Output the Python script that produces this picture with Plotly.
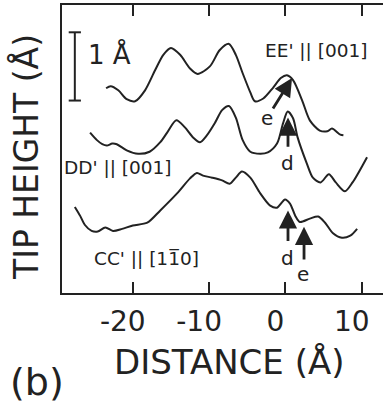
import plotly.graph_objects as go

# ---- data (distance in Å, tip height in Å, arbitrary offset) ----
ee_x = [-23.5, -22.9, -21.9, -20.8, -19.7, -18.4, -17.1, -16.0, -15.0, -13.8, -12.5, -11.5,
        -9.9, -8.6, -7.4, -6.5, -5.6, -4.6, -4.0, -2.9, -1.6, -0.6, 0.2, 1.0, 2.2, 3.2,
        4.5, 5.5, 6.1, 7.2, 7.6]
ee_y = [3.00, 3.03, 2.97, 2.84, 2.81, 2.97, 3.26, 3.49, 3.59, 3.49, 3.29, 3.21,
        3.32, 3.56, 3.65, 3.49, 3.22, 2.94, 2.81, 2.85, 3.01, 3.15, 3.19, 3.12, 2.82, 2.53,
        2.38, 2.37, 2.41, 2.32, 2.31]

dd_x = [-25.6, -24.7, -24.0, -23.4, -22.7, -22.1, -20.8, -19.3, -17.8, -16.4, -15.5, -14.3,
        -13.2, -12.1, -11.2, -10.3, -9.2, -8.3, -7.4, -6.5, -5.6, -4.6, -3.3, -2.3, -1.1,
        -0.3, 0.3, 1.0, 1.6, 2.8, 3.6, 4.6, 5.7, 6.6, 7.8, 8.8, 10.7]
dd_y = [2.35, 2.24, 2.18, 2.16, 2.19, 2.18, 2.09, 2.04, 2.07, 2.21, 2.35, 2.53,
        2.43, 2.28, 2.21, 2.31, 2.50, 2.68, 2.74, 2.57, 2.24, 2.07, 2.04, 2.06, 2.19,
        2.49, 2.66, 2.56, 2.28, 1.90, 1.69, 1.62, 1.74, 1.62, 1.49, 1.62, 1.99]

cc_x = [-27.6, -26.9, -26.3, -25.4, -24.6, -23.6, -22.6, -21.4, -20.0, -18.1, -16.4, -14.2,
        -12.5, -11.6, -10.8, -9.6, -8.3, -7.3, -6.5, -5.7, -4.6, -3.3, -2.0, -1.1, -0.05,
        0.6, 1.3, 1.9, 3.2, 4.3, 5.2, 6.2, 7.4, 8.5, 9.4]
cc_y = [1.26, 1.13, 1.00, 0.91, 0.90, 0.96, 0.91, 0.94, 0.99, 1.03, 1.21, 1.46,
        1.68, 1.76, 1.72, 1.69, 1.65, 1.60, 1.69, 1.78, 1.69, 1.46, 1.28, 1.25, 1.37,
        1.31, 1.13, 1.04, 1.09, 1.12, 1.03, 0.88, 0.81, 0.84, 0.94]

tick_vals = [-20, -10, 0, 10]
tick_text = ["-20", "-10", "0", "10"]

# scale bar (1 Å)
bar_x = -27.6
bar_y0 = 2.82
bar_len = 1.0
bar_half = 0.8

# arrows: (tail x, tail y, tip x, tip y, label, label x, label y)
arrows = [
    (-1.75, 2.68, 0.87, 3.15, "e", -2.45, 2.57),
    (0.34, 2.12, 0.34, 2.57, "d", 0.30, 1.90),
    (0.34, 0.74, 0.34, 1.21, "d", 0.30, 0.51),
    (2.44, 0.47, 2.44, 0.97, "e", 2.35, 0.28),
]

curve_labels = [
    ("EE' || [001]", 4.0, 3.56),
    ("DD' || [001]", -21.9, 1.84),
    ("CC' || [1" + "1\u0305" + "0]", -18.2, 0.51),
]

FONT = "DejaVu Sans"
INK = "#222222"

fig = go.Figure()
for xs, ys in [(ee_x, ee_y), (dd_x, dd_y), (cc_x, cc_y)]:
    fig.add_trace(go.Scatter(x=xs, y=ys, mode="lines",
                             line=dict(color=INK, width=2, shape="spline", smoothing=0.8),
                             showlegend=False, hoverinfo="skip"))

# scale bar
fig.add_trace(go.Scatter(
    x=[bar_x, bar_x, None, bar_x - bar_half, bar_x + bar_half, None, bar_x - bar_half, bar_x + bar_half],
    y=[bar_y0, bar_y0 + bar_len, None, bar_y0, bar_y0, None, bar_y0 + bar_len, bar_y0 + bar_len],
    mode="lines", line=dict(color=INK, width=2), showlegend=False, hoverinfo="skip"))

ann = []
ann.append(dict(x=bar_x + 4.6, y=bar_y0 + 0.68, xref="x", yref="y", text="1 Å",
                showarrow=False, font=dict(family=FONT, size=26, color=INK)))
for (t, x, y) in curve_labels:
    ann.append(dict(x=x, y=y, xref="x", yref="y", text=t, showarrow=False,
                    font=dict(family=FONT, size=18.5, color=INK)))
for (tx, ty, hx, hy, lab, lx, ly) in arrows:
    ann.append(dict(x=hx, y=hy, ax=tx, ay=ty, xref="x", yref="y", axref="x", ayref="y",
                    text="", showarrow=True, arrowhead=2, arrowsize=1.3, arrowwidth=2.8,
                    arrowcolor=INK, standoff=0, startstandoff=0))
    ann.append(dict(x=lx, y=ly, xref="x", yref="y", text=lab, showarrow=False,
                    font=dict(family=FONT, size=20, color=INK)))

# axis titles and panel letter (positions given in page pixels, converted below)
ann.append(dict(x=229, y=406 - 362, xref="paper", yref="paper", text="DISTANCE (Å)",
                showarrow=False, font=dict(family=FONT, size=34, color=INK)))
ann.append(dict(x=26, y=406 - 157, xref="paper", yref="paper", text="TIP HEIGHT (Å)",
                textangle=-90, showarrow=False, font=dict(family=FONT, size=33, color=INK)))
ann.append(dict(x=37, y=406 - 382, xref="paper", yref="paper", text="(b)",
                showarrow=False, font=dict(family=FONT, size=38, color=INK)))

L, R, T, B = 62, 0, 5, 113
W, H = 383, 406
pw, ph = W - L - R, H - T - B
for a in ann:
    a["xanchor"] = "center"
    a["yanchor"] = "middle"
    if a.get("xref") == "paper":
        a["x"] = (a["x"] - L) / pw
        a["y"] = (a["y"] - B) / ph

fig.update_layout(
    width=W, height=H,
    margin=dict(l=L, r=R, t=T, b=B),
    paper_bgcolor="white", plot_bgcolor="white",
    annotations=ann,
    xaxis=dict(range=[-29.28, 12.79], tickvals=tick_vals, ticktext=tick_text,
               ticks="inside", ticklen=11, tickwidth=2, tickcolor=INK,
               showline=True, linecolor=INK, linewidth=2, mirror="ticks",
               showgrid=False, zeroline=False, ticklabelshift=-10, ticklabelstandoff=2,
               tickfont=dict(family=FONT, size=28, color=INK)),
    yaxis=dict(range=[0, 4.22], showticklabels=False, ticks="",
               showline=True, linecolor=INK, linewidth=2, mirror=False,
               showgrid=False, zeroline=False),
)

fig.write_html("out.html")
